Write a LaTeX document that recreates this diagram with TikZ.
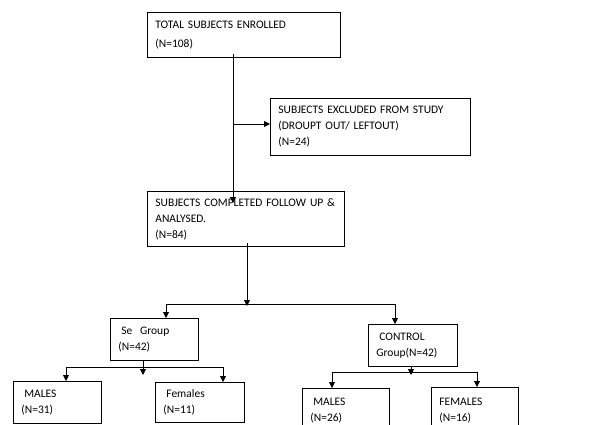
\documentclass[tikz,border=0pt]{standalone}
\usepackage{fontspec}
\setmainfont{Carlito}
\usetikzlibrary{arrows.meta}
\newlength{\du}
\setlength{\du}{1pt}

\begin{document}
\begin{tikzpicture}[
  stagebox/.style={draw, rectangle, anchor=north west, align=left, inner xsep=8\du, inner ysep=0pt, font=\fontsize{11.5}{16}\selectfont},
  flow/.style={-{Triangle[length=6pt,width=6pt]}}
]
\definecolor{dialinecolor}{rgb}{0.000000, 0.000000, 0.000000}
\pgfsetstrokecolor{dialinecolor}
\pgfsetlinewidth{0.800000\du}
\clip (0\du,0\du) rectangle (597\du,-425\du);
% boxes
\node[stagebox, text width=177\du, minimum height=45\du] (enrol) at (147\du,-12\du){TOTAL SUBJECTS ENROLLED\\[3\du](N=108)};
\node[stagebox, text width=184\du, minimum height=57\du] (excl) at (270\du,-98\du){SUBJECTS EXCLUDED FROM STUDY\\(DROUPT OUT/ LEFTOUT)\\(N=24)};
\node[stagebox, text width=181\du, minimum height=55\du] (done) at (147\du,-191\du){SUBJECTS COMPLETED FOLLOW UP \&\\ANALYSED.\\(N=84)};
\node[stagebox, text width=72\du, minimum height=42\du] (se) at (110\du,-318\du){\hspace{3\du}Se\ \ Group\\(N=42)};
\node[stagebox, text width=73\du, minimum height=42\du] (ctrl) at (368\du,-324\du){\hspace{3\du}CONTROL\\Group(N=42)};
\node[stagebox, text width=72\du, minimum height=42\du] (semale) at (13\du,-381\du){\hspace{3\du}MALES\\(N=31)};
\node[stagebox, text width=73\du, minimum height=40\du] (sefemale) at (155\du,-382\du){\hspace{3\du}Females\\(N=11)};
\node[stagebox, text width=71\du, minimum height=44\du] (ctrlmale) at (302\du,-388\du){\hspace{3\du}MALES\\(N=26)};
\node[stagebox, text width=71\du, minimum height=46\du] (ctrlfemale) at (431\du,-387\du){FEMALES\\(N=16)};
% connectors
\draw[flow] ([xshift=86\du,yshift=4\du]enrol.south west) -- ([xshift=86\du,yshift=-12\du]done.north west);
\coordinate (split) at (233\du,-124\du);
\draw[flow] (split) -- (split -| excl.west);
\coordinate (fork) at (247\du,-306\du);
\draw[flow] ([yshift=4\du]fork |- done.south) -- (fork);
\coordinate (seTop) at (166\du,-304\du);
\coordinate (ctrlTop) at (395\du,-304\du);
\draw (seTop) -- (ctrlTop);
\draw[flow] (seTop) -- (seTop |- se.north);
\draw[flow] (ctrlTop) -- (ctrlTop |- ctrl.north);
\coordinate (seSplit) at (143\du,-375\du);
\draw[flow] (seSplit |- se.south) -- (seSplit);
\coordinate (seLeft) at (66\du,-367\du);
\coordinate (seRight) at (223\du,-367\du);
\draw (seLeft) -- (seRight);
\draw[flow] (seLeft) -- (seLeft |- semale.north);
\draw[flow] (seRight) -- (seRight |- sefemale.north);
\coordinate (ctrlSplit) at (411\du,-375\du);
\draw[flow] (ctrlSplit |- ctrl.south) -- (ctrlSplit);
\coordinate (ctrlLeft) at (332\du,-372\du);
\coordinate (ctrlRight) at (477\du,-372\du);
\draw (ctrlLeft) -- (ctrlRight);
\draw[flow] (ctrlLeft) -- (ctrlLeft |- ctrlmale.north);
\draw[flow] (ctrlRight) -- (ctrlRight |- ctrlfemale.north);
\end{tikzpicture}
\end{document}
